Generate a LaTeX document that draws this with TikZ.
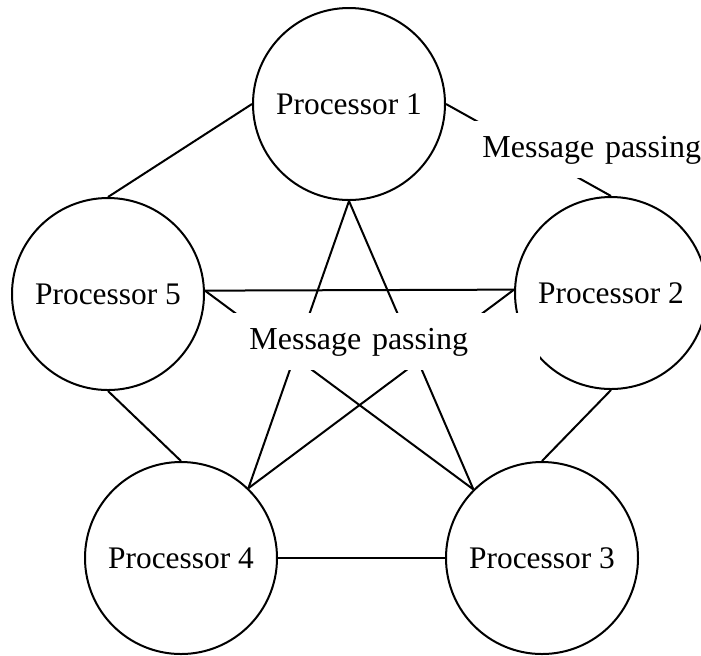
\documentclass[tikz,border=0pt]{standalone}
\usepackage{fontspec}
\setmainfont{Liberation Serif}
\begin{document}
\begin{tikzpicture}[x=0.5pt,y=-0.5pt,
  proc/.style={circle,draw,line width=1pt,minimum size=96pt,inner sep=0pt,
    font=\fontsize{15.7}{18}\selectfont},
  link/.style={line width=1pt},
  mplabel/.style={fill=white,anchor=north west,inner xsep=17pt,inner ysep=0pt,
    minimum height=28.5pt,text width=128.5pt,align=left,
    font=\fontsize{16}{19}\selectfont}]
\useasboundingbox (0,0) rectangle (701,655);
\clip (0,0) rectangle (701,655);

% the five processors
\node[proc] (p1) at (349,104) {Processor 1};
\node[proc] (p2) at (611,293) {Processor 2};
\node[proc] (p3) at (542,558) {Processor 3};
\node[proc] (p4) at (181,558) {Processor 4};
\node[proc] (p5) at (108,294) {Processor 5};

% every pair of processors is linked
\draw[link] (p1.0)   -- (p2.90);
\draw[link] (p1.180) -- (p5.90);
\draw[link] (p5.2)   -- (p2.178);
\draw[link] (p5.2)   -- (p3.135);
\draw[link] (p2.178) -- (p4.46);
\draw[link] (p1.270) -- (p4.46);
\draw[link] (p1.270) -- (p3.135);
\draw[link] (p5.270) -- (p4.90);
\draw[link] (p2.270) -- (p3.90);
\draw[link] (p4.0)   -- (p3.180);

% labels sit on white boxes that break the links beneath them
\node[mplabel] (mpc) at (215,313) {Message passing};
\node[mplabel] (mpt) at (448,121) {Message passing};
\end{tikzpicture}
\end{document}
